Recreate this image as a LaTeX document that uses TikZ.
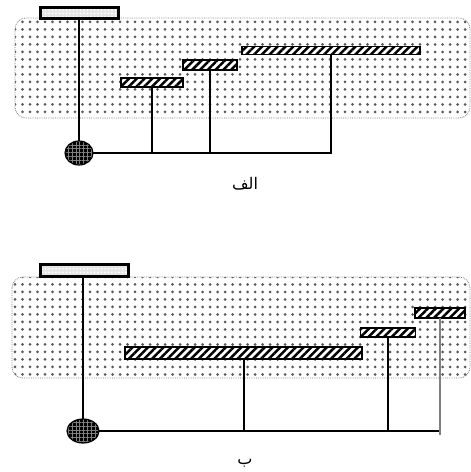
\documentclass[tikz,border=0pt]{standalone}
\usepackage{fontspec}
\newfontfamily\arabicfont[Script=Arabic]{DejaVu Sans}
\TeXXeTstate=1
\usetikzlibrary{patterns.meta,shapes.geometric}
\begin{document}
\begin{tikzpicture}[x=1pt,y=-1pt]
\tikzset{
  every node/.style={inner sep=0pt,outer sep=0pt},
  region/.style={draw=gray,densely dotted,line width=0.8pt,rounded corners=11pt,
    pattern={Dots[distance=7.5pt,radius=1.5pt]},pattern color=black!65},
  bar/.style={draw,line width=1.5pt,fill=white,postaction={pattern={Lines[angle=45,distance=5.5pt,line width=2.5pt]}}},
  electrode/.style={draw,line width=3pt,preaction={fill=gray!20},pattern={Dots[distance=3.5pt,radius=1pt]},pattern color=white},
  blob/.style={ellipse,draw,line width=1.2pt,preaction={fill=black},pattern={Hatch[angle=0,distance=3.8pt,line width=1pt]},pattern color=gray},
  wire/.style={line width=2pt},
  thin wire/.style={line width=1.1pt},
  caption/.style={font=\arabicfont\fontsize{16}{18}\selectfont}
}
\useasboundingbox (0,0) rectangle (471,472);
% panel alef
\draw[region] (15,18) rectangle (470,118);
\node[electrode,minimum width=78,minimum height=11](ta) at (79,12.5) {};
\node[bar,minimum width=62,minimum height=9](a1) at (152,82.5) {};
\node[bar,minimum width=54,minimum height=10](a2) at (210,65) {};
\node[bar,minimum width=178,minimum height=8](a3) at (331,50.5) {};
\node[blob,minimum width=28,minimum height=24](ea) at (79,153) {};
\draw[wire] (ta.south) -- (ea.north);
\draw[wire] (ea.east) -- (a3.south |- ea.east) -- (a3.south);
\draw[wire] (a1.south) -- (a1.south |- ea.east);
\draw[thin wire] (a2.south) -- (a2.south |- ea.east);
\node[caption](la) at (245,184) {\beginR الف\endR};
% panel be
\draw[region] (12,277) rectangle (470,378);
\node[electrode,minimum width=88,minimum height=12](tb) at (84,270) {};
\node[bar,minimum width=237,minimum height=12](b1) at (243.5,353) {};
\node[bar,minimum width=55,minimum height=9](b2) at (388,332.5) {};
\node[bar,minimum width=50,minimum height=10](b3) at (440,313) {};
\node[blob,minimum width=32,minimum height=24](eb) at (83,431) {};
\draw[wire] (tb.south -| eb.north) -- (eb.north);
\draw[wire] (eb.east) -- (b3.south |- eb.east);
\draw[wire] (b1.south) -- (b1.south |- eb.east);
\draw[thin wire] (b2.south) -- (b2.south |- eb.east);
\draw[thin wire,gray] (b3.south) -- ([yshift=-4pt]b3.south |- eb.east);
\node[caption](lb) at (245,463) {\beginR ب\endR};
\end{tikzpicture}
\end{document}
